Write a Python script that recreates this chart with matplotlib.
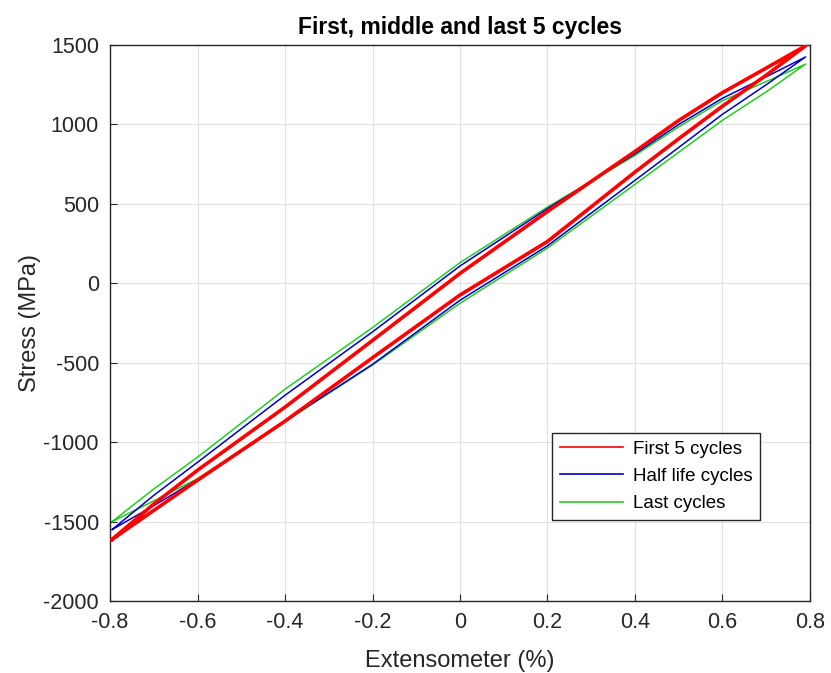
import numpy as np
import matplotlib.pyplot as plt

plt.rcParams['font.family'] = ['Liberation Sans', 'DejaVu Sans']
plt.rcParams['axes.unicode_minus'] = False

# strain stations (%)
strain = [-0.7, -0.6, -0.4, -0.2, 0.0, 0.2, 0.4, 0.5, 0.6, 0.7]

# first 5 cycles
red_tip_t = (0.79, 1495)
red_tip_c = (-0.795, -1612)
red_upper = [-1390, -1177, -780, -360, 62, 452, 830, 1025, 1200, 1355]
red_lower = [-1430, -1240, -868, -469, -74, 263, 700, 910, 1115, 1310]

# half life cycles
blue_tip_t = (0.79, 1425)
blue_tip_c = (-0.795, -1550)
blue_upper = [-1335, -1127, -705, -306, 109, 470, 815, 1000, 1165, 1300]
blue_lower = [-1400, -1235, -868, -510, -107, 236, 648, 855, 1064, 1250]

# last cycles
green_tip_t = (0.79, 1380)
green_tip_c = (-0.795, -1500)
green_upper = [-1295, -1095, -667, -279, 130, 480, 805, 985, 1150, 1270]
green_lower = [-1370, -1230, -870, -515, -126, 222, 623, 825, 1026, 1205]

labels = ['First 5 cycles', 'Half life cycles', 'Last cycles']


def loop(tip_t, tip_c, upper, lower):
    # lower branch going up, upper branch coming back down
    x = [tip_c[0]] + strain + [tip_t[0]] + strain[::-1] + [tip_c[0]]
    y = [tip_c[1]] + lower + [tip_t[1]] + upper[::-1] + [tip_c[1]]
    return np.array(x), np.array(y)


fig = plt.figure(figsize=(8.31, 6.73), dpi=100)
ax = fig.add_axes([0.1324, 0.1070, 0.8423, 0.8261])

x, y = loop(red_tip_t, red_tip_c, red_upper, red_lower)
ax.plot(x, y, color='#ff0000', lw=2.6, label=labels[0], zorder=3)
x, y = loop(blue_tip_t, blue_tip_c, blue_upper, blue_lower)
ax.plot(x, y, color='#0000cc', lw=1.1, label=labels[1], zorder=2)
x, y = loop(green_tip_t, green_tip_c, green_upper, green_lower)
ax.plot(x, y, color='#22cc22', lw=1.1, label=labels[2], zorder=1)

ax.set_xlim(-0.8, 0.8)
ax.set_ylim(-2000, 1500)
ax.set_xticks(np.arange(-0.8, 0.81, 0.2))
ax.set_xticklabels(['-0.8', '-0.6', '-0.4', '-0.2', '0', '0.2', '0.4', '0.6', '0.8'])
ax.set_yticks(np.arange(-2000, 1501, 500))
ax.grid(True, color='#e0e0e0', lw=0.8)
ax.set_axisbelow(True)
ax.tick_params(direction='in', labelsize=15.5, colors='#262626', length=5)
ax.tick_params(axis='x', pad=8)
ax.tick_params(axis='y', pad=8)
for s in ax.spines.values():
    s.set_color('#262626')
    s.set_linewidth(1.0)

ax.set_xlabel('Extensometer (%)', fontsize=17, color='#262626', labelpad=12)
ax.set_ylabel('Stress (MPa)', fontsize=17, color='#262626', labelpad=2)
ax.set_title('First, middle and last 5 cycles', fontsize=16.5, fontweight='bold', pad=8)

leg = ax.legend(loc='lower right', bbox_to_anchor=(0.9286, 0.1457), fontsize=13.5,
                fancybox=False, framealpha=1, edgecolor='#262626', borderaxespad=0,
                handlelength=3.4, borderpad=0.4, labelspacing=0.55, handletextpad=0.5)
for h in leg.get_lines():
    h.set_linewidth(1.2)

fig.savefig('out.png', dpi=100)
